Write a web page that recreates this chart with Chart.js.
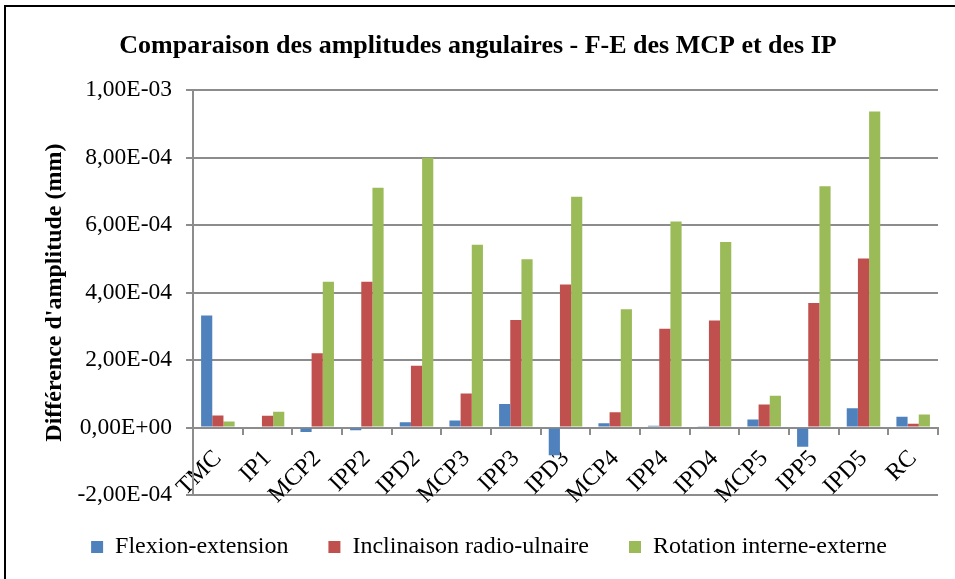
<!DOCTYPE html>
<html>
<head>
<meta charset="utf-8">
<script src="https://cdn.jsdelivr.net/npm/chart.js@4.4.1/dist/chart.umd.min.js"></script>
<style>
html,body{margin:0;padding:0;background:#fff;overflow:hidden}
#c{display:block}
</style>
</head>
<body>
<canvas id="c" width="955" height="579"></canvas>
<script>
// --- data ---
const joints=['TMC','IP1','MCP2','IPP2','IPD2','MCP3','IPP3','IPD3','MCP4','IPP4','IPD4','MCP5','IPP5','IPD5','RC'];
const flexExt=[3.32e-4,0,-1.3e-5,-8e-6,1.6e-5,2.1e-5,7.0e-5,-8.2e-5,1.3e-5,5e-6,2e-6,2.4e-5,-5.7e-5,5.7e-5,3.2e-5];
const inclRU=[3.6e-5,3.5e-5,2.2e-4,4.32e-4,1.83e-4,1.01e-4,3.19e-4,4.24e-4,4.5e-5,2.93e-4,3.17e-4,6.8e-5,3.69e-4,5.01e-4,1.1e-5];
const rotIE=[1.8e-5,4.7e-5,4.32e-4,7.11e-4,8.0e-4,5.42e-4,4.99e-4,6.84e-4,3.51e-4,6.11e-4,5.5e-4,9.4e-5,7.15e-4,9.37e-4,3.9e-5];
const yTickValues=[-2e-4,0,2e-4,4e-4,6e-4,8e-4,1e-3];
const yTickLabels=['-2,00E-04','0,00E+00','2,00E-04','4,00E-04','6,00E-04','8,00E-04','1,00E-03'];

const SERIF='"Liberation Serif","Times New Roman",serif';
const GRID='#8c8c8c';
Chart.defaults.color='#000';
Chart.defaults.font.family=SERIF;

// black frame round the chart (open on the right/bottom edges)
const frame={id:'frame',afterDraw(ch){
  const ctx=ch.ctx; ctx.save();
  ctx.strokeStyle='#000'; ctx.lineWidth=2;
  ctx.strokeRect(5,6,1000,1000);
  ctx.restore();
}};
// legend sits a little right of the title's centre
const legendNudge={id:'legendNudge',afterLayout(ch){
  const lg=ch.legend; if(!lg)return;
  lg.left+=11; lg.right+=11;
}};

new Chart(document.getElementById('c'),{
  type:'bar',
  data:{labels:joints,datasets:[
    {label:'Flexion-extension',data:flexExt,backgroundColor:'#4f81bd'},
    {label:'Inclinaison radio-ulnaire',data:inclRU,backgroundColor:'#c0504d'},
    {label:'Rotation interne-externe',data:rotIE,backgroundColor:'#9bbb59'}
  ]},
  options:{
    responsive:false,animation:false,devicePixelRatio:1,
    datasets:{bar:{categoryPercentage:0.675,barPercentage:1,borderWidth:0}},
    layout:{padding:{left:18,right:17,top:0,bottom:10}},
    plugins:{
      title:{display:true,text:'Comparaison des amplitudes angulaires - F-E des MCP et des IP',
        font:{size:26,weight:'bold',family:SERIF},padding:{top:31,bottom:28}},
      legend:{position:'bottom',labels:{boxWidth:12,boxHeight:12,padding:40,font:{size:24,family:SERIF}}},
      tooltip:{enabled:false}
    },
    scales:{
      x:{position:{y:0},
        grid:{display:true,drawOnChartArea:false,drawTicks:true,tickLength:6,offset:true,color:GRID,lineWidth:2},
        border:{display:true,color:GRID,width:2},
        ticks:{minRotation:45,maxRotation:45,padding:11,autoSkip:false,font:{size:24,family:SERIF}}},
      y:{min:-2e-4,max:1e-3,
        afterBuildTicks:s=>{s.ticks=yTickValues.map(v=>({value:v}));},
        ticks:{padding:14,callback:(v,i)=>yTickLabels[i],font:{size:23.5,family:SERIF}},
        grid:{color:GRID,lineWidth:2,tickLength:7},
        border:{display:true,color:GRID,width:2},
        title:{display:true,text:"Différence d'amplitude (mm)",font:{size:24,weight:'bold',family:SERIF},padding:{top:22.6,bottom:-6}}}
    }
  },
  plugins:[frame,legendNudge]
});
</script>
</body>
</html>
